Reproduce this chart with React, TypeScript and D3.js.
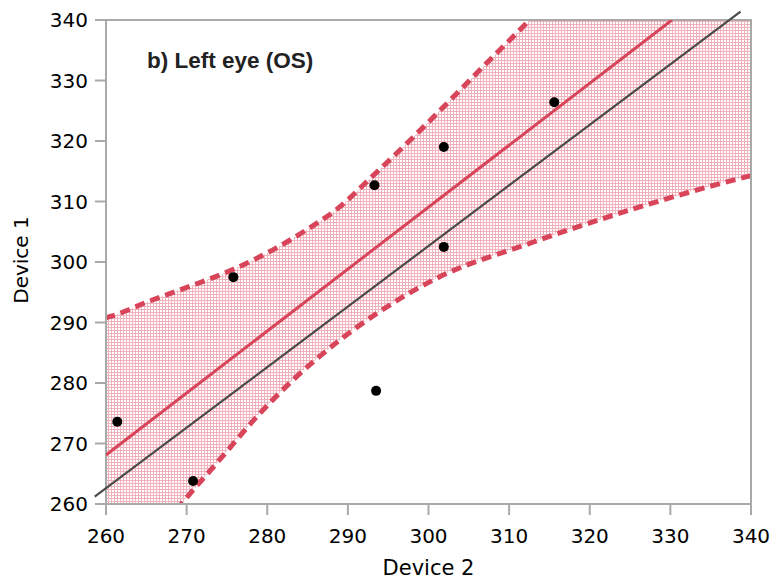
// Bland-Altman style comparison plot: Device 1 vs Device 2, left eye
import React from 'react';
import * as d3 from 'd3';

// measured points (Device 2, Device 1)
const device2 = [261.4, 270.8, 275.8, 293.3, 293.5, 301.9, 301.9, 315.6];
const device1 = [273.6, 263.8, 297.5, 312.7, 278.7, 319.0, 302.5, 326.4];

// regression line end points
const fitX = [260, 330.2];
const fitY = [268.1, 340];

// reference line (grey), drawn slightly past the frame like the original
const refX = [258.6, 338.7];
const refY = [261.2, 341.4];

// upper / lower confidence limits
const upperX = [258, 260.8, 265.5, 269.6, 275.8, 280.7, 284.5, 288.6, 293, 298, 307.6, 320, 330, 340];
const upperY = [290.1, 291.1, 293.6, 295.6, 298.8, 302.0, 305.0, 308.7, 314.1, 320.5, 333.4, 350, 364, 378];
const lowerX = [258, 263, 269.4, 273.7, 279.1, 283.2, 289, 293.6, 301, 312.6, 325, 339.5, 342];
const lowerY = [240, 249, 260.1, 266.7, 275, 280.5, 287.1, 291.5, 297.3, 303.1, 308.6, 314.1, 314.9];

const xTicks = [260, 270, 280, 290, 300, 310, 320, 330, 340];
const yTicks = [260, 270, 280, 290, 300, 310, 320, 330, 340];

const W = 770;
const H = 581;
const left = 106, right = 751, top = 20, bottom = 504;

const axisGrey = '#a9a9a9';
const red = '#d8455a';
const font = 'DejaVu Sans, Verdana, sans-serif';

export default function App() {
  const x = d3.scaleLinear().domain([260, 340]).range([left, right]);
  const y = d3.scaleLinear().domain([260, 340]).range([bottom, top]);

  const line = d3.line<[number, number]>().x(d => x(d[0])).y(d => y(d[1]));
  const curve = d3.line<[number, number]>()
    .x(d => x(d[0]))
    .y(d => y(d[1]))
    .curve(d3.curveMonotoneX);

  const upper: [number, number][] = upperX.map((v, i) => [v, upperY[i]]);
  const lower: [number, number][] = lowerX.map((v, i) => [v, lowerY[i]]);

  // band polygon: upper curve left->right, then lower curve right->left
  const bandPath = curve(upper) + 'L' + curve(lower.slice().reverse())!.slice(1) + 'Z';

  return (
    <svg width={W} height={H} style={{ position: 'absolute', left: 0, top: 0 }}>
      <defs>
        <pattern id="hatch" width={3} height={3} patternUnits="userSpaceOnUse">
          <rect width={3} height={3} fill="#fff" />
          <path d="M0 0.5H3M0.5 0V3" stroke="#f1b1bb" strokeWidth={1} />
        </pattern>
        <clipPath id="plot">
          <rect x={left} y={top} width={right - left} height={bottom - top} />
        </clipPath>
      </defs>

      {/* shaded confidence band */}
      <g clipPath="url(#plot)">
        <path d={bandPath} fill="url(#hatch)" />
        <path d={curve(upper)!} fill="none" stroke={red} strokeWidth={5} strokeDasharray="10 6" />
        <path d={curve(lower)!} fill="none" stroke={red} strokeWidth={5} strokeDasharray="10 6" />
      </g>

      {/* frame + ticks */}
      <rect x={left} y={top} width={right - left} height={bottom - top} fill="none" stroke={axisGrey} strokeWidth={2} />
      {yTicks.map(t => (
        <g key={'y' + t}>
          <line x1={left - 11} x2={left} y1={y(t)} y2={y(t)} stroke={axisGrey} strokeWidth={2} />
          <text x={left - 18} y={y(t)} dy="0.36em" textAnchor="end" fontFamily={font} fontSize={20} fill="#000">
            {t}
          </text>
        </g>
      ))}
      {xTicks.map(t => (
        <g key={'x' + t}>
          <line x1={x(t)} x2={x(t)} y1={bottom} y2={bottom + 11} stroke={axisGrey} strokeWidth={2} />
          <text x={x(t)} y={543} textAnchor="middle" fontFamily={font} fontSize={20} fill="#000">
            {t}
          </text>
        </g>
      ))}

      {/* reference line and fitted line */}
      <path d={line([[refX[0], refY[0]], [refX[1], refY[1]]])!} stroke="#4a4a4a" strokeWidth={2.2} fill="none" />
      <g clipPath="url(#plot)">
        <path d={line([[fitX[0], fitY[0]], [fitX[1], fitY[1]]])!} stroke={red} strokeWidth={3} fill="none" />
      </g>

      {/* points */}
      {device2.map((v, i) => (
        <circle key={i} cx={x(v)} cy={y(device1[i])} r={5} fill="#000" />
      ))}

      {/* labels */}
      <text x={147} y={68} fontFamily="Liberation Sans, Arial, sans-serif" fontWeight="bold" fontSize={22.5} fill="#222">
        b) Left eye (OS)
      </text>
      <text x={(left + right) / 2} y={575} textAnchor="middle" fontFamily={font} fontSize={21} fill="#000">
        Device 2
      </text>
      <text transform={`translate(28, 260) rotate(-90)`} textAnchor="middle" fontFamily={font} fontSize={20} fill="#000">
        Device 1
      </text>
    </svg>
  );
}
